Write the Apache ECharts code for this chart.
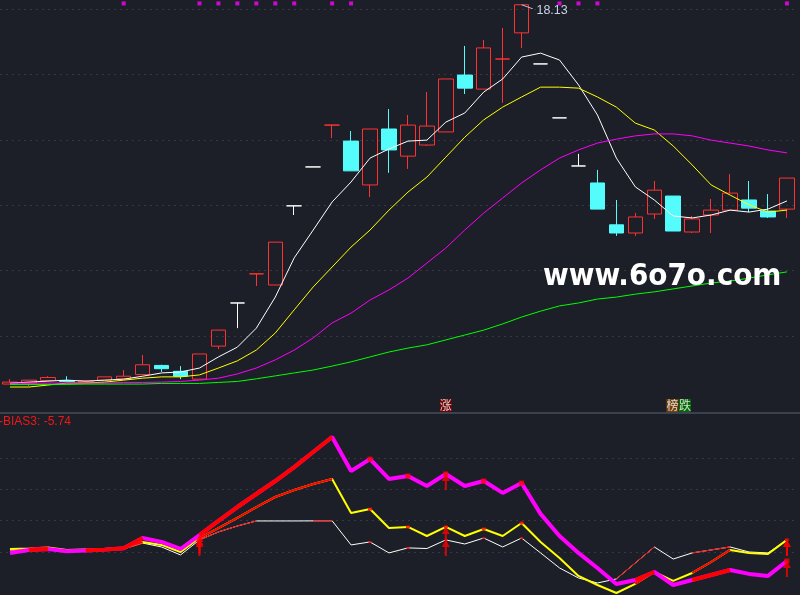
<!DOCTYPE html>
<html>
<head>
<meta charset="utf-8">
<script src="https://cdn.jsdelivr.net/npm/echarts/dist/echarts.min.js"></script>
<style>
html,body{margin:0;padding:0;background:#1c1f27;}
#c{width:800px;height:595px;}
</style>
</head>
<body>
<div id="c"></div>
<script>
// ---------- data ----------
// candles: [open, close, low, high]
const candles = [
[6.53,6.59,6.53,6.68],[6.56,6.65,6.47,6.65],[6.64,6.73,6.64,6.77],[6.64,6.61,6.61,6.77],
[6.59,6.62,6.56,6.64],[6.65,6.75,6.65,6.75],[6.69,6.77,6.69,6.96],[6.82,7.12,6.82,7.42],
[7.10,7.00,6.90,7.12],[6.92,6.77,6.68,7.08],[6.68,7.45,6.68,7.45],[7.69,8.18,7.60,8.18],
[9.01,9.01,8.24,9.01],[9.90,9.90,9.53,9.90],[9.56,10.87,9.56,10.87],[11.98,11.98,11.70,11.98],
[13.17,13.17,13.17,13.17],[14.45,14.45,14.05,14.45],[13.96,13.05,13.05,14.27],[12.62,14.33,12.25,14.33],
[14.33,13.69,12.99,14.94],[13.50,14.45,13.11,14.76],[13.84,14.42,13.81,15.46],[14.24,15.86,14.24,15.86],
[15.98,15.58,15.40,16.87],[15.55,16.81,15.55,17.05],[16.47,16.47,15.13,17.42],[17.27,18.13,16.81,18.13],
[16.32,16.32,16.32,16.32],[14.67,14.67,14.67,14.67],[13.20,13.20,13.20,13.57],[12.68,11.88,11.88,13.08],
[11.40,11.15,11.06,12.16],[11.15,11.64,11.06,11.76],[11.73,12.46,11.58,12.74],[12.28,11.21,11.21,12.28],
[11.18,11.58,11.15,11.67],[11.70,11.85,11.15,12.19],[11.85,12.37,11.85,12.95],[12.16,11.91,11.79,12.74],
[11.82,11.64,11.61,12.34],[11.88,12.83,11.61,12.83]
];
const categories = candles.map((_, i) => 'D' + (i + 1));
const flatWhite = [12, 15, 16, 28, 29, 30];
const flatRed = [13, 17, 26];

const ma5 = [6.56,6.59,6.62,6.65,6.62,6.65,6.68,6.77,6.87,6.90,7.02,7.36,7.66,8.24,9.19,10.39,11.24,12.10,12.71,13.44,13.72,13.96,13.99,14.54,14.82,15.46,15.86,16.53,16.65,16.44,15.68,14.76,13.44,12.56,12.16,11.67,11.61,11.70,11.85,11.79,11.88,12.13];
const ma10 = [6.44,6.44,6.50,6.56,6.56,6.59,6.65,6.71,6.75,6.75,6.81,7.02,7.24,7.57,8.09,8.80,9.50,10.11,10.72,11.24,11.85,12.40,12.86,13.47,14.08,14.61,15.00,15.31,15.61,15.61,15.58,15.31,15.00,14.51,14.30,13.81,13.23,12.62,12.31,12.01,11.79,11.85];
const ma20 = [6.56,6.56,6.56,6.56,6.56,6.56,6.58,6.58,6.59,6.61,6.65,6.71,6.84,7.02,7.27,7.57,7.94,8.40,8.70,9.10,9.41,9.77,10.23,10.69,11.24,11.76,12.22,12.68,13.08,13.44,13.69,13.90,14.02,14.12,14.18,14.18,14.12,13.99,13.90,13.81,13.69,13.60];
const ma60 = [6.52,6.52,6.52,6.52,6.53,6.53,6.53,6.53,6.55,6.55,6.55,6.58,6.61,6.69,6.78,6.87,6.96,7.08,7.21,7.36,7.51,7.63,7.73,7.88,8.03,8.18,8.37,8.58,8.76,8.92,9.01,9.13,9.19,9.28,9.35,9.44,9.53,9.62,9.68,9.77,9.87,9.96];

const signalDots = [6,10,11,12,13,14,15,17,18,29,30,31,41];
const DOT_ROW = 18.17;
const LABEL_ROW = 5.875;
const tagIdx = [23, 35, 35];
const tagText = ['涨', '榜', '跌'];
const tagBg = ['#7e0000', '#8a4a08', '#007a00'];
const tagShift = [0, -0.8, 11.7];
const highPoint = {idx: 27, value: 18.13};

const bias1 = [0.6,1.3,1.9,0.6,1.0,1.3,1.9,5.7,3.2,-1.9,7.7,12.8,16.6,19.8,19.8,19.8,19.85,19.9,4.5,6.4,-0.6,2.6,2.2,7.7,5.1,8.9,3.2,8.9,-0.6,-10.2,-16.6,-19.8,-17.2,-7.0,3.2,-4.5,-0.6,1.3,3.2,0,-0.6,7.7];
const bias2 = [1.9,2.2,2.9,1.3,1.6,1.9,2.6,6.4,4.5,0,8.9,15.3,21.7,28.7,35.1,39.6,43.4,46.6,24.9,27.4,15.3,16.0,10.2,16.0,10.2,14.7,10.2,18.5,6.4,-3.8,-15.3,-21.1,-26.2,-20.4,-12.8,-18.5,-13.4,-6.4,1.3,-0.6,-1.3,7.7];
const bias3 = [-0.6,1.3,1.9,0.5,0.9,1.5,2.4,8.9,6.4,1.9,10.8,19.8,28.7,37.0,45.3,54.2,63.8,73.4,51.7,59.3,46.6,48.5,42.1,49.8,42.1,45.3,37.7,44.0,24.3,10.2,-0.6,-10.2,-20.4,-17.9,-12.8,-21.1,-17.9,-14.7,-11.5,-14.0,-15.3,-5.74];
const arrowIdx = [10, 23, 41];
const biasTitle = '-BIAS3: -5.74';

// ---------- styles ----------
const BG = '#1c1f27', RED = '#ff3232', CYAN = '#54fcfc', WHITE = '#ffffff';
const GRID_LINE = {color: '#4f5462', type: [1, 5], width: 1};

const candleData = candles.map((v, i) => {
  let c = null;
  if (flatWhite.includes(i)) c = WHITE;
  if (flatRed.includes(i)) c = RED;
  if (!c) return v;
  return {value: v, itemStyle: {color: c, color0: c, borderColor: c, borderColor0: c, borderColorDoji: c}};
});

function rising(arr) { return arr.map((v, i) => i > 0 && v > arr[i - 1]); }
function overlayData(arr) { const m = rising(arr); return arr.map((v, i) => m[i] ? v : '-'); }
function isolatedData(arr) {
  const m = rising(arr);
  const out = [];
  arr.forEach((v, i) => { if (m[i] && !m[i - 1] && !m[i + 1]) out.push([i, v]); });
  return out;
}
function line(data, color, width, gi, z) {
  return {
    type: 'line', data: data, xAxisIndex: gi, yAxisIndex: gi, symbol: 'none',
    lineStyle: {color: color, width: width}, itemStyle: {color: color},
    clip: false, z: z, silent: true, emphasis: {disabled: true}, connectNulls: false
  };
}
function dots(arr, size, z) {
  return {
    type: 'scatter', xAxisIndex: 1, yAxisIndex: 1, data: isolatedData(arr), symbol: 'rect',
    symbolSize: size, itemStyle: {color: '#ff0000'}, clip: false, z: z, silent: true
  };
}
const arrowData = [];
arrowIdx.forEach(i => { arrowData.push([i, bias3[i]], [i, bias2[i]], [i, bias1[i]]); });

const chart = echarts.init(document.getElementById('c'));
chart.setOption({
  backgroundColor: BG,
  animation: false,
  grid: [
    {left: 0.5, width: 795.9, top: 0, height: 401.4, show: false},
    {left: 0.5, width: 795.9, top: 458, height: 125.3, show: false}
  ],
  xAxis: [
    {type: 'category', gridIndex: 0, data: categories, boundaryGap: true, show: false},
    {type: 'category', gridIndex: 1, data: categories, boundaryGap: true, show: false}
  ],
  yAxis: [
    {type: 'value', gridIndex: 0, min: 6, max: 18.275, interval: 2,
     axisLine: {show: false}, axisTick: {show: false}, axisLabel: {show: false},
     splitLine: {show: true, showMinLine: false, showMaxLine: false, lineStyle: GRID_LINE}},
    {type: 'value', gridIndex: 1, min: -20, max: 60, interval: 20,
     axisLine: {show: false}, axisTick: {show: false}, axisLabel: {show: false},
     splitLine: {show: true, showMinLine: false, showMaxLine: true, lineStyle: GRID_LINE}}
  ],
  series: [
    {
      type: 'candlestick', xAxisIndex: 0, yAxisIndex: 0, data: candleData, barWidth: 15,
      itemStyle: {color: 'transparent', color0: CYAN, borderColor: RED, borderColor0: CYAN, borderWidth: 1},
      z: 2, silent: true, emphasis: {disabled: true},
      markPoint: {
        silent: true,
        symbol: 'path://M0,0 L11,4',
        symbolSize: [11, 4], symbolOffset: [5.5, 2],
        itemStyle: {color: 'transparent', borderColor: '#c8d2e6', borderWidth: 1},
        label: {show: true, position: 'right', distance: 3, offset: [0, 4], formatter: String(highPoint.value),
                color: '#c8d2e6', fontSize: 12.5, fontFamily: 'Liberation Sans, Arial, sans-serif'},
        data: [{coord: [highPoint.idx, highPoint.value], value: highPoint.value}]
      }
    },
    line(ma5, WHITE, 1, 0, 3),
    line(ma10, '#ffff00', 1, 0, 3),
    line(ma20, '#ff00ff', 1, 0, 3),
    line(ma60, '#00ff00', 1, 0, 3),
    {
      type: 'scatter', xAxisIndex: 0, yAxisIndex: 0, data: signalDots.map(i => [i, DOT_ROW]),
      symbol: 'rect', symbolSize: 4, itemStyle: {color: '#ff00ff'}, z: 4, silent: true
    },
    {
      type: 'scatter', xAxisIndex: 0, yAxisIndex: 0, clip: false, silent: true, z: 5,
      symbolSize: 1, itemStyle: {color: 'transparent'},
      data: tagIdx.map((idx, k) => ({
        value: [idx, LABEL_ROW],
        label: {
          show: true, position: 'inside', offset: [tagShift[k], 0], formatter: tagText[k],
          color: '#ffffff', backgroundColor: tagBg[k], fontSize: 12, lineHeight: 13,
          padding: [0, 0, 0, 0], fontFamily: 'Noto Sans CJK SC', textBorderWidth: 0
        }
      }))
    },
    line(bias1, WHITE, 1, 1, 5),
    line(overlayData(bias1), '#ff0000', 1, 1, 6),
    line(bias2, '#ffff00', 2, 1, 7),
    line(overlayData(bias2), '#ff0000', 2, 1, 8),
    line(bias3, '#ff00ff', 4, 1, 9),
    line(overlayData(bias3), '#ff0000', 4, 1, 10),
    dots(bias1, [3, 2], 11),
    dots(bias2, [4, 3], 11),
    dots(bias3, [5, 5], 11),
    {
      type: 'scatter', xAxisIndex: 1, yAxisIndex: 1, data: arrowData, clip: false, silent: true, z: 12,
      symbol: 'path://M4,0 L8,7 L5,7 L5,16 L3,16 L3,7 L0,7 Z', symbolSize: [8, 16], symbolOffset: [0, 8],
      itemStyle: {color: '#ff0000'}
    }
  ],
  graphic: [
    {type: 'rect', left: 0, top: 412, shape: {width: 800, height: 2}, style: {fill: '#3b414d'}, silent: true},
    {type: 'text', left: -1, top: 416, silent: true,
     style: {text: biasTitle, fill: '#f01818', font: '12px "Liberation Sans", Arial, sans-serif'}},
    {type: 'text', left: 543, top: 261, silent: true, z: 100,
     style: {text: 'www.6o7o.com', fill: '#ffffff', font: 'bold 31px "DejaVu Sans Condensed", "DejaVu Sans", sans-serif'}}
  ]
});
</script>
</body>
</html>
